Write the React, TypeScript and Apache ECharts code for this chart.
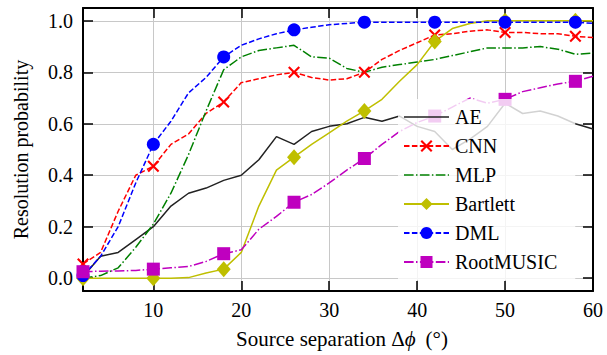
import React, { useEffect, useRef } from "react";
import * as echarts from "echarts";

const separation = [2, 4, 6, 8, 10, 12, 14, 16, 18, 20, 22, 24, 26, 28, 30, 32, 34, 36, 38, 40, 42, 44, 46, 48, 50, 52, 54, 56, 58, 60];
const aeValues = [0.005, 0.085, 0.1, 0.15, 0.2, 0.28, 0.33, 0.35, 0.38, 0.4, 0.46, 0.55, 0.52, 0.57, 0.59, 0.6, 0.625, 0.61, 0.63, 0.59, 0.57, 0.5, 0.54, 0.59, 0.68, 0.64, 0.65, 0.63, 0.6, 0.58];
const cnnValues = [0.055, 0.1, 0.26, 0.4, 0.435, 0.52, 0.56, 0.64, 0.685, 0.76, 0.775, 0.79, 0.8, 0.78, 0.77, 0.775, 0.8, 0.85, 0.885, 0.915, 0.945, 0.95, 0.96, 0.965, 0.955, 0.955, 0.95, 0.95, 0.94, 0.935];
const mlpValues = [0.0, 0.01, 0.04, 0.12, 0.21, 0.33, 0.48, 0.65, 0.81, 0.86, 0.885, 0.895, 0.905, 0.86, 0.855, 0.815, 0.8, 0.82, 0.83, 0.84, 0.85, 0.865, 0.88, 0.895, 0.895, 0.895, 0.9, 0.89, 0.87, 0.875];
const bartlettValues = [0, 0, 0, 0, 0, 0, 0.002, 0.02, 0.035, 0.1, 0.28, 0.42, 0.47, 0.52, 0.565, 0.61, 0.65, 0.695, 0.765, 0.83, 0.92, 0.97, 0.99, 1.0, 1.0, 1.0, 1.0, 1.0, 1.0, 1.0];
const dmlValues = [0.01, 0.085, 0.2, 0.37, 0.52, 0.61, 0.72, 0.78, 0.86, 0.905, 0.93, 0.95, 0.965, 0.975, 0.985, 0.99, 0.995, 0.995, 0.995, 0.995, 0.995, 0.995, 0.995, 0.995, 0.995, 0.995, 0.995, 0.995, 0.995, 0.99];
const rootMusicValues = [0.025, 0.027, 0.028, 0.03, 0.035, 0.04, 0.045, 0.065, 0.095, 0.11, 0.19, 0.24, 0.295, 0.325, 0.37, 0.42, 0.465, 0.52, 0.57, 0.605, 0.63, 0.665, 0.7, 0.68, 0.695, 0.725, 0.74, 0.755, 0.765, 0.785];

const markerPositions = [2, 10, 18, 26, 34, 42, 50, 58];
const xTicks = [10, 20, 30, 40, 50, 60];
const yTicks = [0, 0.2, 0.4, 0.6, 0.8, 1.0];

const FONT = "'Liberation Serif', 'Times New Roman', serif";
const DASHED = [5.5, 2.4];
const DASHDOT = [9.6, 2.4, 1.5, 2.4];
const XMARK = "path://M0,1.5L1.5,0L6,4.5L10.5,0L12,1.5L7.5,6L12,10.5L10.5,12L6,7.5L1.5,12L0,10.5L4.5,6Z";
const AE_ICON = "path://M0,0H45V1.5H0Z";
const MLP_ICON = "path://M0,0H9.6V1.5H0Z M12,0H13.5V1.5H12Z M15.9,0H25.5V1.5H15.9Z M27.9,0H29.4V1.5H27.9Z M31.8,0H41.4V1.5H31.8Z M43.8,0H45V1.5H43.8Z";

function withMarkers(values: number[]) {
  return separation.map((x, i) =>
    markerPositions.includes(x) ? [x, values[i]] : { value: [x, values[i]], symbol: "none" }
  );
}

function plain(values: number[]) {
  return separation.map((x, i) => [x, values[i]]);
}

export default function App() {
  const ref = useRef<HTMLDivElement>(null);
  useEffect(() => {
    const chart = echarts.init(ref.current!, null, { renderer: "svg" });
    const axisLine = { show: true, onZero: false, lineStyle: { color: "#000", width: 2 } };
    const tickStyle = { color: "#000", width: 1.5 };
    const labelStyle = { fontFamily: FONT, fontSize: 20, color: "#000" };
    const titleStyle = { fontFamily: FONT, fontSize: 21, color: "#000" };
    const line = (color: string, type: any) => ({ color, width: 1.5, type });
    const option: any = {
      animation: false,
      backgroundColor: "#fff",
      textStyle: { fontFamily: FONT },
      grid: { left: 83, right: 14, top: 8, bottom: 64, containLabel: false },
      xAxis: [
        {
          type: "value",
          min: 2,
          max: 60,
          position: "bottom",
          axisLine,
          axisTick: { show: true, inside: true, length: 10, customValues: xTicks, lineStyle: tickStyle },
          axisLabel: { show: true, customValues: xTicks, margin: 9, ...labelStyle },
          splitLine: { show: true, lineStyle: { color: "#c8c8c8", width: 1 } },
          name: "{a|Source separation Δ}{b|ϕ}{c|(°)}",
          nameLocation: "middle",
          nameGap: 37,
          nameTextStyle: {
            rich: {
              a: { ...titleStyle, padding: [0, 0, 0, 8] },
              b: { ...titleStyle, fontStyle: "italic" },
              c: { ...titleStyle, padding: [0, 0, 0, 10] },
            },
          },
        },
        {
          type: "value",
          min: 2,
          max: 60,
          position: "top",
          axisLine,
          axisTick: { show: true, inside: true, length: 10, customValues: xTicks, lineStyle: tickStyle },
          axisLabel: { show: false },
          splitLine: { show: false },
        },
      ],
      yAxis: [
        {
          type: "value",
          min: -0.05,
          max: 1.05,
          position: "left",
          axisLine,
          axisTick: { show: true, inside: true, length: 10, customValues: yTicks, lineStyle: tickStyle },
          axisLabel: { show: true, customValues: yTicks, margin: 10, formatter: (v: number) => v.toFixed(1), ...labelStyle },
          splitLine: { show: true, lineStyle: { color: "#c8c8c8", width: 1 } },
          name: "Resolution probability",
          nameLocation: "middle",
          nameGap: 52,
          nameTextStyle: { ...labelStyle },
        },
        {
          type: "value",
          min: -0.05,
          max: 1.05,
          position: "right",
          axisLine,
          axisTick: { show: true, inside: true, length: 10, customValues: yTicks, lineStyle: tickStyle },
          axisLabel: { show: false },
          splitLine: { show: false },
        },
      ],
      legend: {
        orient: "vertical",
        left: 398,
        top: 99,
        itemWidth: 45,
        itemHeight: 15,
        itemGap: 9,
        padding: [8, 18, 8, 5],
        backgroundColor: "rgba(255,255,255,0.8)",
        borderWidth: 0,
        selectedMode: false,
        textStyle: { ...labelStyle, padding: [0, 0, 0, 1] },
        data: [
          { name: "AE", icon: AE_ICON },
          { name: "CNN" },
          { name: "MLP", icon: MLP_ICON },
          { name: "Bartlett" },
          { name: "DML" },
          { name: "RootMUSIC" },
        ],
      },
      series: [
        {
          name: "AE",
          type: "line",
          data: plain(aeValues),
          symbol: "none",
          color: "#222222",
          lineStyle: line("#222222", "solid"),
          silent: true,
        },
        {
          name: "CNN",
          type: "line",
          data: withMarkers(cnnValues),
          symbol: XMARK,
          symbolSize: 12,
          color: "#ff0000",
          itemStyle: { color: "#ff0000" },
          lineStyle: line("#ff0000", DASHED),
          silent: true,
        },
        {
          name: "MLP",
          type: "line",
          data: plain(mlpValues),
          symbol: "none",
          color: "#008000",
          lineStyle: line("#008000", DASHDOT),
          silent: true,
        },
        {
          name: "Bartlett",
          type: "line",
          data: withMarkers(bartlettValues),
          symbol: "diamond",
          symbolSize: [14, 16],
          color: "#bfbf00",
          itemStyle: { color: "#bfbf00" },
          lineStyle: line("#bfbf00", "solid"),
          silent: true,
        },
        {
          name: "DML",
          type: "line",
          data: withMarkers(dmlValues),
          symbol: "circle",
          symbolSize: 13,
          color: "#0000ff",
          itemStyle: { color: "#0000ff" },
          lineStyle: line("#0000ff", DASHED),
          silent: true,
        },
        {
          name: "RootMUSIC",
          type: "line",
          data: withMarkers(rootMusicValues),
          symbol: "rect",
          symbolSize: 13,
          color: "#bf00bf",
          itemStyle: { color: "#bf00bf" },
          lineStyle: line("#bf00bf", DASHDOT),
          silent: true,
        },
      ],
    };
    chart.setOption(option);
    return () => chart.dispose();
  }, []);
  return (
    <div
      ref={ref}
      style={{ position: "fixed", left: 0, top: 0, width: 607, height: 355, background: "#fff" }}
    />
  );
}
